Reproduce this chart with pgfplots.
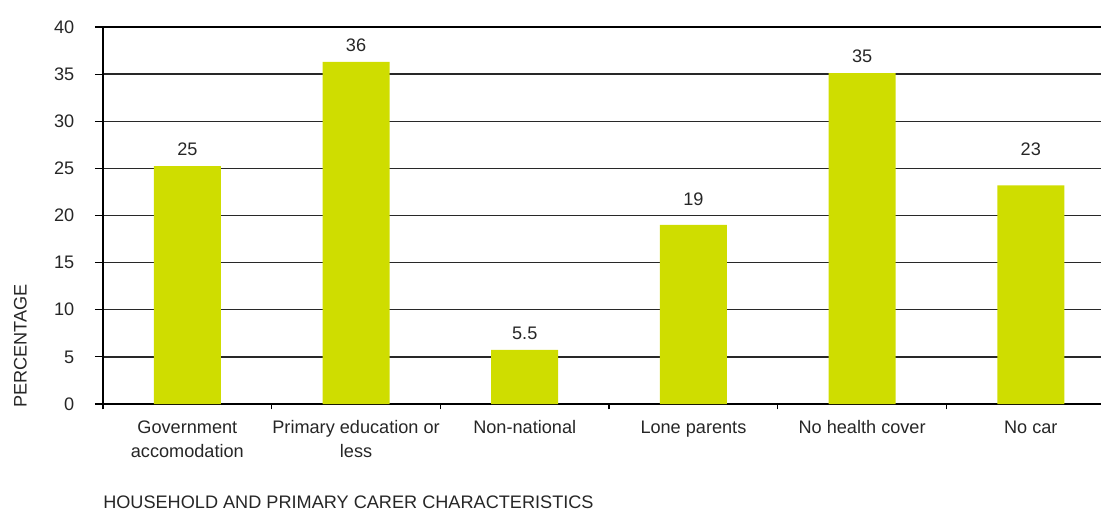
\documentclass[border=0pt]{standalone}
\usepackage{pgfplots}
\pgfplotsset{compat=1.18}
\usepackage{fontspec}
\setmainfont{Liberation Sans}
\definecolor{barc}{RGB}{207,221,0}
\definecolor{gridc}{RGB}{40,40,40}
\begin{document}
\begin{tikzpicture}
\useasboundingbox (-77.25pt,-80.25pt) rectangle (748.5pt,303pt);
\begin{axis}[
  scale only axis,
  width=748.5pt, height=282.75pt,
  at={(0,0)}, anchor=south west,
  xmin=-0.5, xmax=5.416,
  ymin=0, ymax=40,
  ytick={0,5,...,40},
  axis x line=bottom, axis y line=left,
  axis line style={-, line width=2.1pt, black},
  ymajorgrids,
  major grid style={gridc, line width=1.05pt},
  xtick={0,1,2,3,4,5},
  xticklabels={{Government\\accomodation},{Primary education or\\less},{Non-national},{Lone parents},{No health cover},{No car}},
  major x tick style={draw=none},
  minor xtick={-0.5,0.5,1.5,2.5,3.5,4.5},
  minor x tick style={line width=0.9pt, black},
  minor tick length=4pt,
  major y tick style={line width=0.9pt, black},
  major tick length=6pt,
  ytick align=outside, xtick align=outside,
  tick label style={font=\fontsize{13.6}{18}\selectfont, text=black!85},
  xticklabel style={align=center, yshift=-3pt},
  yticklabel style={xshift=-12pt},
  /pgf/number format/assume math mode=true,
  ylabel={PERCENTAGE},
  ylabel style={at={(axis description cs:0,0)}, anchor=west, yshift=62pt, xshift=-3pt, font=\fontsize{13.6}{18}\selectfont, text=black!85, inner sep=0pt},
  xlabel={HOUSEHOLD AND PRIMARY CARER CHARACTERISTICS},
  xlabel style={at={(axis description cs:0,0)}, anchor=west, yshift=-74pt, font=\fontsize{13.6}{18}\selectfont, text=black!85, inner sep=0pt},
  clip=false,
]
\addplot[ybar, bar width=50.25pt, fill=barc, draw=none]
  coordinates {(0,25.25) (1,36.3) (2,5.73) (3,19.0) (4,35.1) (5,23.2)};
% value labels, placed at the heights shown in the chart
\addplot[draw=none, mark=none,
  point meta=explicit symbolic,
  nodes near coords,
  every node near coord/.style={anchor=center, font=\fontsize{13.6}{18}\selectfont, text=black!85}]
  coordinates {(0,27.06)[25] (1,38.1)[36] (2,7.53)[5.5] (3,21.75)[19] (4,36.92)[35] (5,27.06)[23]};
\draw[black, line width=1.8pt] (axis cs:-0.5,40) -- (axis cs:5.416,40);
\end{axis}
\end{tikzpicture}
\end{document}
